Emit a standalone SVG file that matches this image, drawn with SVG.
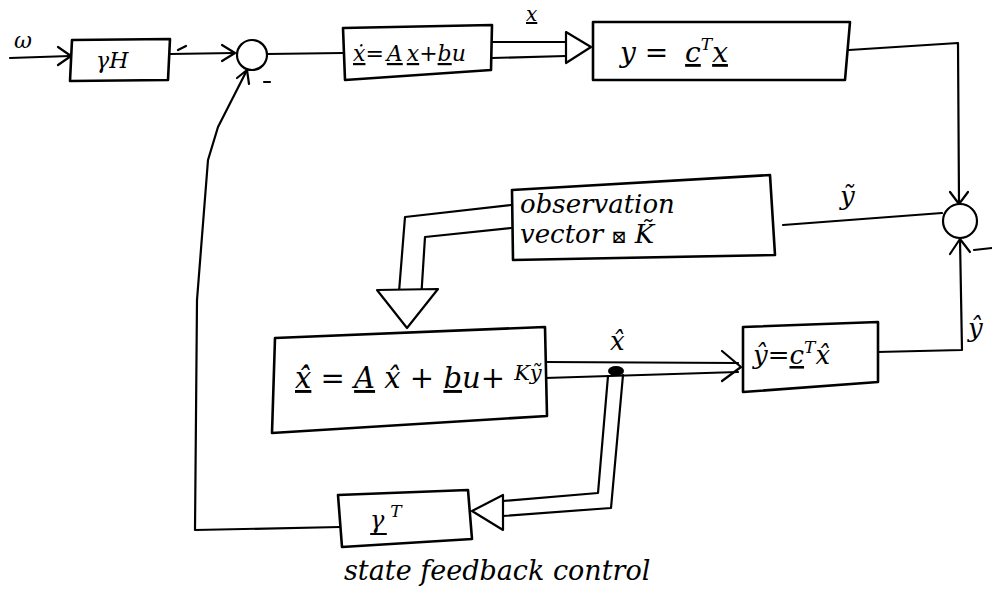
<svg xmlns="http://www.w3.org/2000/svg" width="992" height="594" viewBox="0 0 992 594">
<style>
.ln{fill:none;stroke:#000;stroke-width:2.2;stroke-linecap:round;stroke-linejoin:round}
.bx{fill:#fff;stroke:#000;stroke-width:2.6;stroke-linejoin:round}
.hd{fill:none;stroke:#000;stroke-width:2.2;stroke-linecap:round;stroke-linejoin:round}
.tri{fill:#fff;stroke:#000;stroke-width:2.2;stroke-linejoin:round}
.t{font-family:"DejaVu Serif","Liberation Serif",serif;font-style:italic;fill:#000}
.u{text-decoration:underline}
</style>
<rect width="992" height="594" fill="#fff"/>
<g id="connectors">
  <path class="ln" d="M10,58 L70,56"/>
  <path class="hd" d="M58,47 L71,56 L58,65"/>
  <path class="ln" d="M170,54 L234,53"/>
  <path class="hd" d="M222,45 L235,53 L222,61"/>
  <path class="ln" d="M178,50 L186,46"/>
  <path class="ln" d="M267,54 L343,53"/>
  <path class="ln" d="M492,42 L566,42"/>
  <path class="ln" d="M492,58 L566,56"/>
  <path class="tri" d="M566,32 L591,47 L566,63 Z"/>
  <path class="ln" d="M849,50 L958,43 L959,203"/>
  <path class="hd" d="M950,192 L959,204 L968,192"/>
  <path class="ln" d="M783,225 L942,213"/>
  <path class="ln" d="M877,352 L962,350 L960,239"/>
  <path class="hd" d="M950,254 L960,239 L970,252"/>
  <path class="ln" d="M974,250 L992,248"/>
  <path class="ln" d="M511,205 L405,217 L399,292"/>
  <path class="ln" d="M511,228 L425,237 L421,300"/>
  <path class="tri" d="M377,290 L438,289 L407,328 Z"/>
  <path class="ln" d="M545,362 L738,363"/>
  <path class="ln" d="M545,378 L738,372"/>
  <path class="hd" d="M722,351 L741,367 L722,381"/>
  <path class="ln" d="M608,376 L598,493 L503,501"/>
  <path class="ln" d="M623,375 L611,508 L503,516"/>
  <ellipse cx="616" cy="371" rx="8" ry="5" fill="#000"/>
  <path class="tri" d="M503,495 L503,530 L472,511 Z"/>
  <path class="ln" d="M340,527 L195,530 L197,300 L208,160 L218,127 L246,72"/>
  <path class="hd" d="M237,78 L247,70 L249,84"/>
</g>
<g id="input">
  <text class="t" x="14" y="48" font-size="22">ω</text>
</g>
<g id="prefilter">
  <path class="bx" d="M72,40 L170,39 L168,80 L70,81 Z"/>
  <text class="t" x="96" y="68" font-size="22">γH</text>
</g>
<g id="sum1">
  <circle cx="252" cy="55" r="15" fill="#fff" stroke="#000" stroke-width="2.2"/>
  <path class="ln" d="M264,82 L270,82"/>
</g>
<g id="plant">
  <path class="bx" d="M343,28 L492,25 L491,70 L345,80 Z"/>
  <text class="t" x="353" y="61" font-size="22"><tspan class="u">ẋ</tspan>=<tspan class="u" dx="3">A</tspan><tspan class="u" dx="4">x</tspan>+<tspan class="u">b</tspan>u</text>
  <text class="t u" x="526" y="21" font-size="20">x</text>
</g>
<g id="output">
  <path class="bx" d="M593,22 L850,22 L845,80 L593,80 Z"/>
  <text class="t" x="620" y="62" font-size="28">y  =  <tspan class="u" dx="8">c</tspan><tspan font-size="17" dy="-12">T</tspan><tspan class="u" dy="12">x</tspan></text>
</g>
<g id="sum2">
  <circle cx="960" cy="221" r="17" fill="#fff" stroke="#000" stroke-width="2.2"/>
  <text class="t" x="840" y="205" font-size="26">ỹ</text>
  <text class="t" x="968" y="337" font-size="26">ŷ</text>
</g>
<g id="observation">
  <path class="bx" d="M512,190 L770,175 L775,255 L513,260 Z"/>
  <text class="t" x="520" y="213" font-size="26">observation</text>
  <text class="t" x="520" y="243" font-size="26">vector <tspan font-size="18">⊠</tspan> K̃</text>
</g>
<g id="observer">
  <path class="bx" d="M275,338 L545,327 L547,416 L272,433 Z"/>
  <text class="t" x="295" y="388" font-size="29"><tspan class="u">x̂̇</tspan> = <tspan class="u">A</tspan> x̂ + <tspan class="u">b</tspan>u+ <tspan font-size="21" dy="-8">Kỹ</tspan></text>
  <text class="t" x="610" y="350" font-size="26">x̂</text>
</g>
<g id="estimator">
  <path class="bx" d="M743,327 L878,322 L878,382 L743,392 Z"/>
  <text class="t" x="753" y="364" font-size="26">ŷ=<tspan class="u">c</tspan><tspan font-size="17" dy="-11">T</tspan><tspan dy="11">x̂</tspan></text>
</g>
<g id="feedback">
  <path class="bx" d="M338,495 L468,490 L472,539 L342,547 Z"/>
  <text class="t" x="370" y="528" font-size="24">γ<tspan font-size="17" dy="-11" dx="6">T</tspan></text>
  <path class="ln" d="M371,534 L386,534"/>
</g>
<g id="caption">
  <text class="t" x="344" y="580" font-size="27">state feedback control</text>
</g>
</svg>
